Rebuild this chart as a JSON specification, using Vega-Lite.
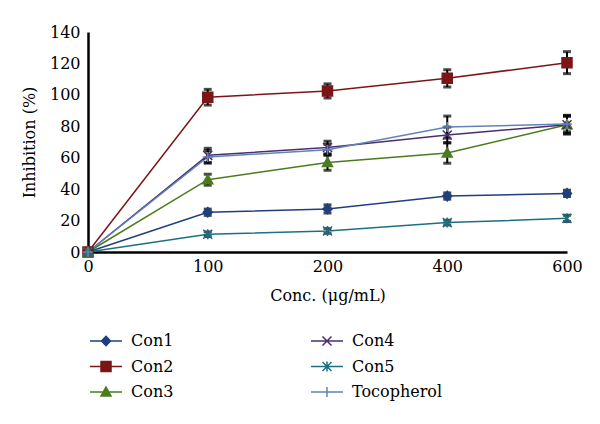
{
  "$schema": "https://vega.github.io/schema/vega-lite/v6.json",
  "width": 479,
  "height": 220,
  "autosize": {"type": "none"},
  "padding": {"left": 88, "top": 32, "right": 33, "bottom": 172},
  "background": "white",
  "config": {
    "font": "DejaVu Serif",
    "view": {"stroke": null},
    "axis": {
      "domainColor": "black",
      "domainWidth": 2.5,
      "ticks": false,
      "grid": false,
      "labelFont": "DejaVu Serif",
      "labelFontSize": 16,
      "labelColor": "black",
      "titleFont": "DejaVu Serif",
      "titleFontSize": 16,
      "titleFontWeight": "normal",
      "titleColor": "black"
    },
    "legend": {
      "labelFont": "DejaVu Serif",
      "labelFontSize": 16,
      "labelColor": "black",
      "padding": 0
    }
  },
  "data": {
    "values": [
      {"series": "Con1", "conc": "0", "value": 0, "err": 0},
      {"series": "Con1", "conc": "100", "value": 25.3, "err": 2},
      {"series": "Con1", "conc": "200", "value": 27.4, "err": 2.6},
      {"series": "Con1", "conc": "400", "value": 35.6, "err": 2},
      {"series": "Con1", "conc": "600", "value": 37.3, "err": 2},
      {"series": "Con2", "conc": "0", "value": 0, "err": 0},
      {"series": "Con2", "conc": "100", "value": 98.5, "err": 5},
      {"series": "Con2", "conc": "200", "value": 102.5, "err": 4.5},
      {"series": "Con2", "conc": "400", "value": 110.5, "err": 5.5},
      {"series": "Con2", "conc": "600", "value": 120.5, "err": 7},
      {"series": "Con3", "conc": "0", "value": 0, "err": 0},
      {"series": "Con3", "conc": "100", "value": 46, "err": 3.5},
      {"series": "Con3", "conc": "200", "value": 57, "err": 5},
      {"series": "Con3", "conc": "400", "value": 63, "err": 6.5},
      {"series": "Con3", "conc": "600", "value": 81, "err": 5.5},
      {"series": "Con4", "conc": "0", "value": 0, "err": 0},
      {"series": "Con4", "conc": "100", "value": 61.5, "err": 4.5},
      {"series": "Con4", "conc": "200", "value": 66.5, "err": 4},
      {"series": "Con4", "conc": "400", "value": 74.5, "err": 5},
      {"series": "Con4", "conc": "600", "value": 81, "err": 6},
      {"series": "Con5", "conc": "0", "value": 0, "err": 0},
      {"series": "Con5", "conc": "100", "value": 11.3, "err": 1.5},
      {"series": "Con5", "conc": "200", "value": 13.4, "err": 1.5},
      {"series": "Con5", "conc": "400", "value": 18.7, "err": 1.5},
      {"series": "Con5", "conc": "600", "value": 21.4, "err": 2},
      {"series": "Tocopherol", "conc": "0", "value": 0, "err": 0},
      {"series": "Tocopherol", "conc": "100", "value": 60.5, "err": 4},
      {"series": "Tocopherol", "conc": "200", "value": 65, "err": 3.5},
      {"series": "Tocopherol", "conc": "400", "value": 79.5, "err": 7},
      {"series": "Tocopherol", "conc": "600", "value": 81.5, "err": 5}
    ]
  },
  "encoding": {
    "x": {
      "field": "conc",
      "type": "ordinal",
      "sort": ["0", "100", "200", "400", "600"],
      "scale": {"type": "point", "padding": 0},
      "axis": {"labelAngle": 0, "labelPadding": 6, "title": "Conc. (μg/mL)", "titlePadding": 13}
    },
    "y": {
      "field": "value",
      "type": "quantitative",
      "scale": {"domain": [0, 140], "nice": false, "zero": true},
      "axis": {"values": [0, 20, 40, 60, 80, 100, 120, 140], "labelPadding": 8, "title": "Inhibition (%)", "titlePadding": 12}
    }
  },
  "layer": [
    {
      "mark": {"type": "line", "strokeWidth": 1.5},
      "encoding": {
        "color": {
          "field": "series",
          "type": "nominal",
          "scale": {
            "domain": ["Con1", "Con2", "Con3", "Con4", "Con5", "Tocopherol"],
            "range": ["#1F3F7F", "#7B1518", "#4C7B1F", "#4B2E6E", "#1D6F84", "#6283BA"]
          },
          "legend": null
        }
      }
    },
    {
      "transform": [{"filter": "datum.err > 0"}],
      "mark": {
        "type": "errorbar",
        "ticks": {"size": 8, "thickness": 3, "color": "black"},
        "rule": {"strokeWidth": 2, "color": "black"},
        "color": "black"
      },
      "encoding": {
        "y": {"field": "value", "type": "quantitative"},
        "yError": {"field": "err"}
      }
    },
    {
      "mark": {"type": "point", "filled": true, "size": 100, "strokeWidth": 1.5, "opacity": 1},
      "encoding": {
        "fill": {
          "field": "series",
          "type": "nominal",
          "scale": {
            "domain": ["Con1", "Con2", "Con3", "Con4", "Con5", "Tocopherol"],
            "range": ["#1F3F7F", "#7B1518", "#4C7B1F", "#4B2E6E", "#1D6F84", "#6283BA"]
          },
          "legend": null
        },
        "stroke": {
          "field": "series",
          "type": "nominal",
          "scale": {
            "domain": ["Con1", "Con2", "Con3", "Con4", "Con5", "Tocopherol"],
            "range": ["#1F3F7F", "#7B1518", "#4C7B1F", "#4B2E6E", "#1D6F84", "#6283BA"]
          },
          "legend": null
        },
        "shape": {
          "field": "series",
          "type": "nominal",
          "scale": {
            "domain": ["Con1", "Con2", "Con3", "Con4", "Con5", "Tocopherol"],
            "range": [
              "M0,-0.95L0.9,0L0,0.95L-0.9,0Z",
              "M-1,-1H1V1H-1Z",
              "M0,-1L1,0.8H-1Z",
              "M-0.9,-0.9L0.9,0.9M-0.9,0.9L0.9,-0.9",
              "M-0.9,-0.9L0.9,0.9M-0.9,0.9L0.9,-0.9M0,-1V1",
              "M0,-1V1M-1,0H1"
            ]
          },
          "legend": null
        }
      }
    },
    {
      "mark": {"type": "point", "filled": true, "size": 100, "strokeWidth": 1.5, "opacity": 0},
      "encoding": {
        "fill": {
          "field": "series",
          "type": "nominal",
          "scale": {
            "domain": ["Con1", "Con2", "Con3", "Con4", "Con5", "Tocopherol"],
            "range": ["#1F3F7F", "#7B1518", "#4C7B1F", "#4B2E6E", "#1D6F84", "#6283BA"]
          },
          "legend": {
            "orient": "none", "legendX": 10, "legendY": 301, "columns": 2,
            "columnPadding": 134, "rowPadding": 9.5, "title": null,
            "symbolSize": 100, "symbolStrokeWidth": 1.5, "symbolOpacity": 1,
            "labelOffset": 17, "labelFont": "DejaVu Serif", "labelFontSize": 16, "labelColor": "black"
          }
        },
        "stroke": {
          "field": "series",
          "type": "nominal",
          "scale": {
            "domain": ["Con1", "Con2", "Con3", "Con4", "Con5", "Tocopherol"],
            "range": ["#1F3F7F", "#7B1518", "#4C7B1F", "#4B2E6E", "#1D6F84", "#6283BA"]
          },
          "legend": {
            "orient": "none", "legendX": 10, "legendY": 301, "columns": 2,
            "columnPadding": 134, "rowPadding": 9.5, "title": null,
            "symbolSize": 100, "symbolStrokeWidth": 1.5, "symbolOpacity": 1,
            "labelOffset": 17, "labelFont": "DejaVu Serif", "labelFontSize": 16, "labelColor": "black"
          }
        },
        "shape": {
          "field": "series",
          "type": "nominal",
          "scale": {
            "domain": ["Con1", "Con2", "Con3", "Con4", "Con5", "Tocopherol"],
            "range": [
              "M-3.2,0H3.2M0,-0.95L0.9,0L0,0.95L-0.9,0Z",
              "M-3.2,0H3.2M-1,-1H1V1H-1Z",
              "M-3.2,0H3.2M0,-1L1,0.8H-1Z",
              "M-3.2,0H3.2M-0.9,-0.9L0.9,0.9M-0.9,0.9L0.9,-0.9",
              "M-3.2,0H3.2M-0.9,-0.9L0.9,0.9M-0.9,0.9L0.9,-0.9M0,-1V1",
              "M-3.2,0H3.2M0,-1V1"
            ]
          },
          "legend": {
            "orient": "none", "legendX": 10, "legendY": 301, "columns": 2,
            "columnPadding": 134, "rowPadding": 9.5, "title": null,
            "symbolSize": 100, "symbolStrokeWidth": 1.5, "symbolOpacity": 1,
            "labelOffset": 17, "labelFont": "DejaVu Serif", "labelFontSize": 16, "labelColor": "black"
          }
        }
      }
    }
  ],
  "resolve": {
    "scale": {"fill": "independent", "stroke": "independent", "shape": "independent"},
    "legend": {"fill": "independent", "stroke": "independent", "shape": "independent"}
  }
}
